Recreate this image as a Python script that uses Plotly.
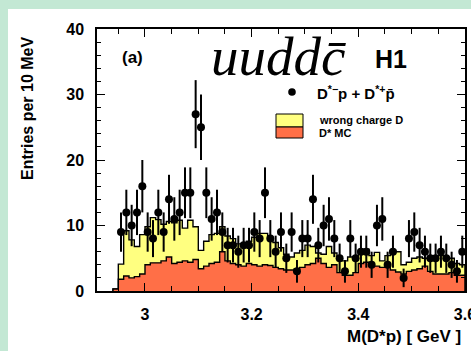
import numpy as np
import plotly.graph_objects as go

# 10 MeV bins of M(D*p), lower edges from 2.94 GeV to 3.59 GeV
bin_lo = 2.94
bin_w = 0.01

# D* Monte Carlo (bottom of the stack)
dstar_mc = [0.3, 1.8, 2.3, 2.0, 2.2, 2.6, 4.0, 4.3, 4.3, 4.6,
            5.2, 4.2, 4.4, 4.6, 4.4, 4.8, 3.4, 3.8, 4.2, 4.4,
            6.0, 4.6, 4.2, 4.0, 3.8, 4.2, 4.0, 3.8, 4.0, 3.9,
            3.6, 3.4, 3.2, 3.2, 3.4, 3.6, 4.0, 4.2, 5.0, 4.2,
            3.6, 4.0, 2.8, 2.4, 2.4, 2.8, 4.2, 4.4, 4.0, 3.8,
            3.6, 3.6, 3.2, 2.9, 2.6, 3.0, 3.2, 3.4, 3.8, 3.0,
            2.6, 2.6, 2.6, 2.8, 2.4, 2.4]

# wrong charge D contribution (stacked on the MC)
wrong_charge = [0.0, 2.3, 6.9, 5.8, 4.6, 6.0, 5.8, 6.9, 6.6, 5.6,
                5.4, 6.2, 6.4, 5.0, 6.4, 5.0, 2.8, 3.8, 4.4, 4.4,
                3.8, 3.8, 3.8, 3.2, 3.0, 3.4, 4.2, 5.0, 4.8, 4.3,
                3.8, 3.2, 2.4, 2.0, 2.4, 2.6, 3.0, 2.6, 0.8, 1.4,
                3.2, 1.8, 2.2, 2.2, 2.8, 2.0, 2.0, 2.0, 1.4, 2.1,
                1.0, 1.8, 3.0, 3.1, 1.4, 1.4, 1.8, 1.8, 1.2, 1.8,
                2.2, 2.8, 2.2, 2.2, 1.8, 1.6]

# D*- p + D*+ pbar entries per bin
entries = [None, 9, 12, 10, 12, 16, 9, 8, 12, 9,
           14, 11, 12, 15, 15, 27, 25, 15, 11, 12,
           9, 7, 7, 6, 7, 7, 9, 8, 15, 8,
           6, 9, 5, 9, 3, 8, 8, 14, 7, 10,
           11, 8, 5, 3, 8, 5, 6, 6, 4, 10,
           11, 4, 6, None, 2, 8, 9, 7, 6, 5,
           5, 6, 5, 4, 3, 6]

n = len(entries)
edges = bin_lo + bin_w * np.arange(n + 1)
centers = edges[:-1] + bin_w / 2
mc = np.array(dstar_mc, dtype=float)
total = mc + np.array(wrong_charge, dtype=float)
counts = np.array([np.nan if v is None else v for v in entries], dtype=float)
errors = np.sqrt(counts)


def step_xy(values):
    xs = np.concatenate([[edges[0]], edges])
    ys = np.concatenate([[0.0], values, [0.0]])
    return xs, ys


YELLOW = "#ffff80"
ORANGE = "#ff6f47"
FONT = "Liberation Sans"

fig = go.Figure()

tx, ty = step_xy(total)
fig.add_trace(go.Scatter(x=tx, y=ty, mode="lines", line=dict(shape="hv", color="black", width=1.4),
                         fill="tozeroy", fillcolor=YELLOW, hoverinfo="skip", showlegend=False))
mx, my = step_xy(mc)
fig.add_trace(go.Scatter(x=mx, y=my, mode="lines", line=dict(shape="hv", color="black", width=1.4),
                         fill="tozeroy", fillcolor=ORANGE, hoverinfo="skip", showlegend=False))
fig.add_trace(go.Scatter(x=centers, y=counts, mode="markers",
                         marker=dict(color="black", size=8),
                         error_y=dict(type="data", array=errors, color="black", thickness=2, width=0),
                         showlegend=False))

W, H = 471, 351
L, R, T, B = 97, 6, 29, 60
pw, ph = W - L - R, H - T - B


def px(x):
    return (x - L) / pw


def py(y):
    return (H - B - y) / ph


# white page panel over the green surround
fig.add_shape(type="rect", xref="paper", yref="paper", x0=px(8), x1=px(W + 2), y0=py(H + 2), y1=py(9),
              fillcolor="white", line_width=0, layer="below")

# legend keys
fig.add_shape(type="circle", xref="paper", yref="paper", x0=px(288.2), x1=px(295.8), y0=py(95.8), y1=py(88.2),
              fillcolor="black", line_width=0)
fig.add_shape(type="rect", xref="paper", yref="paper", x0=px(276), x1=px(303), y0=py(127), y1=py(114),
              fillcolor=YELLOW, line=dict(color="black", width=1))
fig.add_shape(type="rect", xref="paper", yref="paper", x0=px(276), x1=px(303), y0=py(138), y1=py(127),
              fillcolor=ORANGE, line=dict(color="black", width=1))

ann = [
    dict(text="<b>D<sup>*−</sup>p + D<sup>*+</sup>p\u0304</b>", x=px(315), y=py(92), xanchor="left",
         font=dict(size=15, family=FONT, color="black")),
    dict(text="<b>wrong charge D</b>", x=px(317), y=py(119.5), xanchor="left",
         font=dict(size=11, family=FONT, color="black")),
    dict(text="<b>D* MC</b>", x=px(317), y=py(132.5), xanchor="left",
         font=dict(size=11, family=FONT, color="black")),
    dict(text="<b>(a)</b>", x=px(132), y=py(57.5), xanchor="center",
         font=dict(size=17, family=FONT, color="black")),
    dict(text="<i>uuddc\u0304</i>", x=px(278), y=py(56), xanchor="center",
         font=dict(size=55, family="Liberation Serif", color="black")),
    dict(text="<b>H1</b>", x=px(391), y=py(59), xanchor="center",
         font=dict(size=25, family=FONT, color="black")),
    dict(text="<b>Entries per 10 MeV</b>", x=px(27), y=py(108), xanchor="center", textangle=-90,
         font=dict(size=16, family=FONT, color="black")),
    dict(text="<b>M(D*p) [ GeV ]</b>", x=px(463), y=py(336), xanchor="right",
         font=dict(size=17, family=FONT, color="black")),
]
for a in ann:
    a.update(xref="paper", yref="paper", showarrow=False, yanchor="middle")
    fig.add_annotation(**a)

axis_common = dict(showline=True, linecolor="black", linewidth=1.5, mirror="allticks",
                   ticks="inside", ticklen=8, tickwidth=1.2, tickcolor="black",
                   showgrid=False, zeroline=False, ticklabeloverflow="allow", automargin=False,
                   tickfont=dict(size=16, family=FONT, color="black", weight="bold"))

fig.update_xaxes(range=[2.91, 3.6001], tick0=3.0, dtick=0.2, ticklabelstandoff=8,
                 minor=dict(dtick=0.05, ticks="inside", ticklen=5, tickcolor="black", tickwidth=1),
                 **axis_common)
fig.update_yaxes(range=[0, 40], tick0=0, dtick=10, ticklabelstandoff=8,
                 minor=dict(dtick=2, ticks="inside", ticklen=4, tickcolor="black", tickwidth=1),
                 **axis_common)

fig.update_layout(width=W, height=H, margin=dict(l=L, r=R, t=T, b=B, pad=0),
                  paper_bgcolor="#c3e8d4", plot_bgcolor="white", showlegend=False)

fig.write_html("out.html")
